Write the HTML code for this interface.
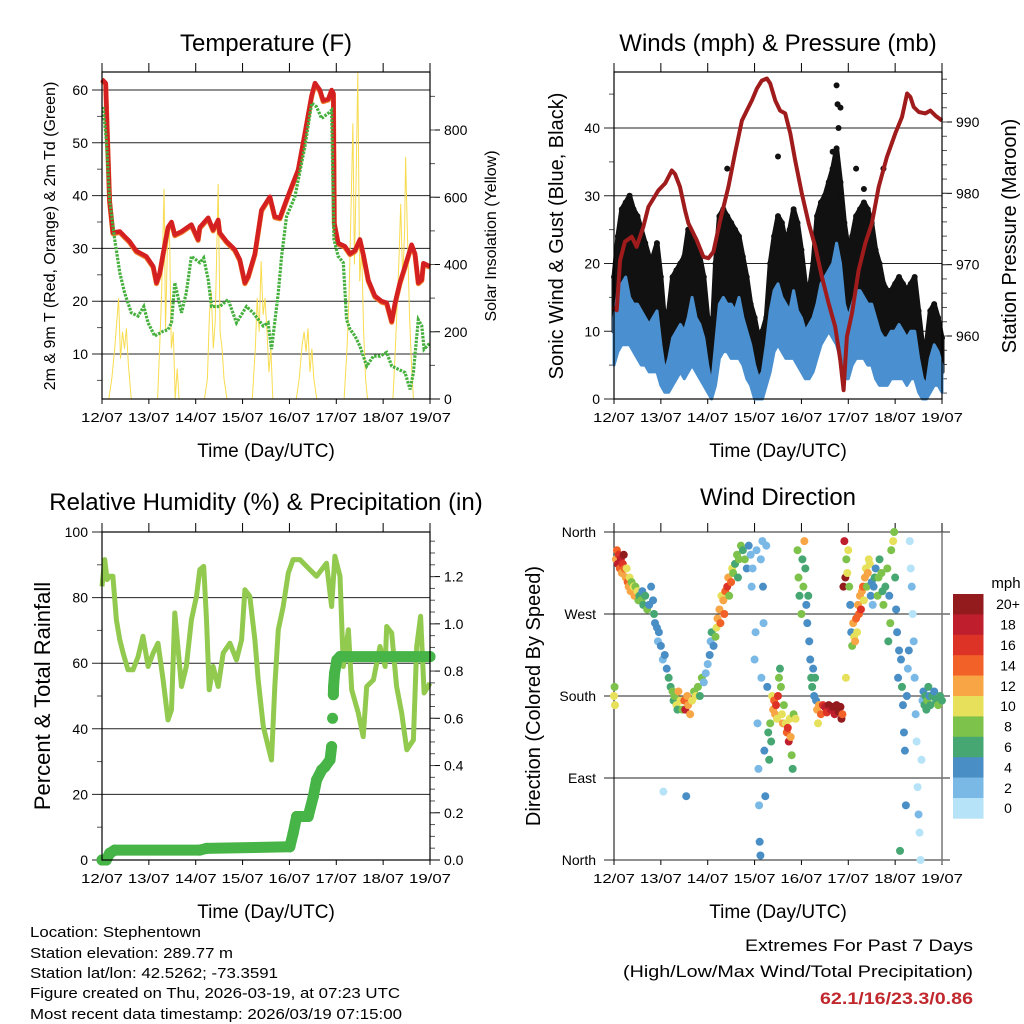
<!DOCTYPE html>
<html><head><meta charset="utf-8"><title>Station Meteogram</title>
<style>
html,body{margin:0;padding:0;background:#fff;}
svg{display:block;font-family:"Liberation Sans",Arial,sans-serif;}
</style></head>
<body>
<svg id="chart" width="1024" height="1024" viewBox="0 0 1024 1024" xmlns="http://www.w3.org/2000/svg">
<rect x="0" y="0" width="1024" height="1024" fill="#fff"/>
<g id="p1"></g>
<g id="p2"></g>
<g id="p3"></g>
<g id="p4"></g>
<g font-size="15" fill="#000">
<text x="30" y="937" textLength="171" lengthAdjust="spacingAndGlyphs">Location: Stephentown</text>
<text x="30" y="958" textLength="203" lengthAdjust="spacingAndGlyphs">Station elevation: 289.77 m</text>
<text x="30" y="978" textLength="248" lengthAdjust="spacingAndGlyphs">Station lat/lon: 42.5262; -73.3591</text>
<text x="30" y="998" textLength="370" lengthAdjust="spacingAndGlyphs">Figure created on Thu, 2026-03-19, at 07:23 UTC</text>
<text x="30" y="1019" textLength="372" lengthAdjust="spacingAndGlyphs">Most recent data timestamp: 2026/03/19 07:15:00</text>
</g>
<g text-anchor="end">
<text x="973" y="951" font-size="17" textLength="228" lengthAdjust="spacingAndGlyphs">Extremes For Past 7 Days</text>
<text x="973" y="977" font-size="17" textLength="350" lengthAdjust="spacingAndGlyphs">(High/Low/Max Wind/Total Precipitation)</text>
<text x="973" y="1004" font-size="17" font-weight="bold" fill="#c0282d" textLength="153" lengthAdjust="spacingAndGlyphs">62.1/16/23.3/0.86</text>
</g>
</svg>
<script>
// ---------- data ----------
const dayLabels=['12/07','13/07','14/07','15/07','16/07','17/07','18/07','19/07'];
const tempHours=[0,1.9,2.6,3.9,5.6,9.1,14.2,17.6,22.7,26.2,27.9,29.6,31.3,33.8,35.6,37.3,40.7,45.8,49.2,50.1,54.4,56.9,59.5,60.3,63.8,68,70.6,73.2,74.9,78.3,81.7,86,88.5,91.1,94.5,97.1,100.5,103.9,107.4,109.1,111.6,113.3,115.9,117.6,118.5,119,121,124.4,127,129.6,132.1,133.8,136.4,139.8,143.2,145.8,148.4,150.1,152.6,155.2,158.6,160.3,162,163.8,164.6,168];
const tempVals=[62,61.3,53,39,33,33.2,31.3,29.5,28.5,26.6,23.5,25.4,29,34,35,32.6,33.2,34.5,31.7,34,35.8,33.5,35.4,33,31.3,29.8,27.9,23.5,24.7,29,37.3,39.8,36,35.8,39.2,41.7,44.9,51.8,59,61.3,60,58,58.3,60,59.4,34.8,31,30.4,29,29.6,31.7,29,24,21,20,19.7,16.2,19.7,23.5,26.6,30.7,29,23.5,24.1,27.2,26.6];
const dewHours=[0.5,2.2,3.9,6.5,9.1,11.6,15,18.5,21.4,23.6,27,31.3,33.8,35.6,37.3,40.7,43.2,45.8,50.1,52.1,54.4,56.1,60.3,64.6,68.9,74,77.4,82.6,85.1,86.8,90.3,92,94.5,98.8,103.9,107.4,109.9,112.5,115.9,117.6,118.8,121,123.6,125.3,127,129.6,132.1,135.6,139,142.4,145.8,148.4,151.8,155.2,157.8,159.5,162,163.8,165,168];
const dewVals=[56.8,50.6,39.2,31.7,25.4,21.6,17.8,17.2,19,15.9,13.4,14.3,14.6,15.9,23.5,17.8,21.6,28.5,27.3,28.2,24.1,19,19,20.3,15.9,19,17.8,15.3,15.9,10.9,21.6,28.5,36,39.8,49.3,57.5,56.8,54.6,55.6,56.2,31.7,28.5,27.3,16.5,14.7,13.4,11.5,7.7,9.6,9.6,10.3,7.7,7.1,6.5,3.3,6.5,16.5,15.3,10.9,12.1];
const solarHours=[0,3.5,5,6.5,8.5,9.5,10.5,11.5,12.5,13.5,15,28.5,29.5,30.5,31.8,32.5,33.5,34.5,35.5,36.5,37.5,38.5,39.5,52.5,54,55,56,57,58,59.5,60.5,61.5,62.5,64,77,78.5,79.5,80.5,81.5,82.5,83.5,84.5,85.5,86.5,87.5,99.5,101,102.5,103.5,104.5,105.5,106.5,107.5,108.5,110,124,125.5,126.5,127.5,128.5,129.3,130,131,132,133,134,135,136,149,150,151,152,153,154,155,155.5,156.5,157.5,158.5,159.5,168];
const solarVals=[0,0,60,150,300,120,200,150,210,100,0,0,150,300,625,200,450,520,150,200,0,90,0,0,60,250,320,150,230,640,200,150,60,0,0,150,300,200,410,250,300,200,80,150,0,0,60,160,200,140,210,80,150,60,0,0,150,300,550,820,400,600,970,350,450,200,60,0,0,120,250,400,580,350,500,720,480,250,100,0,0];
const windHours=[0,2,4,6,8,10,12,14,16,18,20,22,24,26,28,30,32,34,36,38,40,42,44,46,48,50,52,54,56,58,60,62,64,66,68,70,72,74,76,78,80,82,84,86,88,90,92,94,96,98,100,102,104,106,108,110,112,114,116,118,120,122,124,126,128,130,132,134,136,138,140,142,144,146,148,150,152,154,156,158,160,162,164,166,168];
const gustHi=[18,24,28,29,30,28,27,25,23,21,21,23,18,11,13,18,19,20,21,25,24,22,21,18,12,8,20,27,28,27,26,25,24,21,18,14,12,9,10,12,20,24,27,26,23,25,28,26,22,17,16,20,27,29,30,32,34,37,32,26,22,24,27,28,29,28,26,22,20,17,16,16,17,18,17,16,17,18,13,8,8,13,14,12,9];
const gustLo=[10,14,16,16,16,15,14,13,11,10,9,9,6,4,5,8,10,10,10,12,13,12,11,8,4,3,9,14,15,15,14,13,12,10,8,6,4,3,4,6,10,12,14,13,12,12,13,11,10,8,8,10,14,16,17,18,18,20,16,9,10,11,12,12,14,13,12,10,8,7,7,8,8,9,8,7,8,8,5,2,2,5,7,6,4];
const windHi=[12,16,17,18,15,14,14,13,12,11,12,13,8,4,6,9,10,11,10,12,15,12,11,9,5,2,8,14,15,14,14,13,15,12,10,8,5,3,4,8,13,16,17,15,14,13,16,13,12,10,11,12,14,17,18,19,20,23,20,14,12,14,16,16,15,14,14,12,10,9,9,10,10,11,10,9,10,10,6,3,2,6,8,7,5];
const windLo=[5,7,8,8,8,7,6,5,5,4,4,4,2,1,1,2,3,4,3,4,5,4,3,2,1,0,2,6,7,7,6,6,6,5,3,2,0,0,0,2,4,7,8,7,6,6,6,5,4,3,3,4,6,8,9,10,9,8,6,3,3,5,6,6,6,5,5,3,2,2,2,3,3,3,3,2,3,3,1,0,0,1,2,2,1];
const gustOutHours=[58,84,112,114,114.5,115,116,124,128,138];
const gustOutVals=[34,35.8,36.5,46.3,43.5,40,43,34,31,34];
const presHours=[0,1.4,3.1,5.6,9.1,11.6,15,17.6,22.7,26.2,29.6,31.3,33.8,36.4,38.1,42.4,45.8,48.4,50.9,54.4,58.6,62,65.5,68,70.6,73.2,75.7,78.3,80,82.6,85.1,87.7,90.3,92.8,96.2,99.7,103.1,106.5,109.9,113.3,115.9,117.6,118.5,119.3,121.9,125.3,128.7,132.1,135.6,139.8,144.1,147.5,150.1,151.8,153.5,156.1,159.5,162,164.6,168];
const presVals=[964.1,963.6,970.6,973.2,973.9,972.5,975.3,978.1,980.4,981.4,983.2,982.7,980.9,977.6,975.8,973.4,971.1,970.9,971.8,976.2,980.9,985.6,990.2,991.6,993,994.7,995.8,996.1,995.4,993,991.6,991.2,988.4,984.6,980,975.8,972.5,968.3,964.6,961.3,956.6,952.4,956.6,959.9,963.2,969.2,973,975.8,980.9,985.1,988.4,990.7,994,993.5,992.1,991.4,991.2,991.6,990.9,990.2];
const rhHours=[0,1.4,2.6,3.9,5.6,7.4,9.1,10.8,13.3,15.9,18.5,21,23.6,26.2,28.7,31.3,33.8,35.6,37.3,40.7,43.2,45.8,48.4,50.1,52.1,53.5,54.9,56.9,59.5,62.1,65.5,68.9,71.5,73.2,75.7,78.3,80,82.6,84.3,86.8,88.5,90.3,92.8,95.4,97.9,101.4,106.5,109.9,115,117.6,119.3,121.9,123.6,126.2,127.9,131.3,133.8,135.6,139,142.4,145,145.8,148.4,150.9,153.5,156.1,159.5,161.2,163.2,165,168];
const rhVals=[83.4,91.6,85.5,86.5,86.5,73.2,67.1,63.1,58,58,62,68.2,59,63.1,66.1,54.9,42.7,45.8,75.3,52.9,59,73.2,80.4,88.5,89.5,73.2,51.9,59,52.9,63.1,66.1,61,67.1,82.4,80.4,67.1,54.9,40.7,36.6,30.5,52.9,70.2,77.3,87.5,91.6,91.6,88.5,86.5,90.5,77.3,92.6,86.5,59,70.2,51.9,44.8,37.6,52.9,54.9,65.1,59,71.2,69.2,52.9,44.8,33.6,36.6,65.1,74.3,50.9,53.9];
const precipHours=[0,2.2,3.9,6.5,50.1,53.5,96.2,97.9,99.7,102.2,105.6,108.2,109.9,112.5,114.2,116.8,117.6,118.1,118.5,118.6,119.1,120.3,121.9,168];
const precipVals=[0,0,0.028,0.042,0.042,0.049,0.056,0.113,0.184,0.184,0.184,0.268,0.339,0.381,0.395,0.424,0.48,0.6,0.7,0.734,0.79,0.847,0.861,0.861];
const dirHours=[0,0.3,0.5,1,1.5,2,2.5,3,3.5,4,4.5,5,5.5,6,6.5,7,7.5,8,8.5,9,10,10.5,11,12,12.5,13,14,14.5,15,16,17,18,19,20,20.5,21,22,22.5,23,
24,25,25.3,26,27,28,29,30,30.5,31,32,32.5,33,34,35,36,36.5,37,37.5,38,39,40,41,42,43,44,45,46,47,48,49,49.5,50,51,52,52.5,53,54,54.5,55,56,56.5,57,58,58.5,59,60,60.5,61,62,63,63.5,64,65,66,67,68,69,70,70.5,71,
72,72.5,73,73.5,74,74.3,74.6,75,75.2,75.5,76,76.3,76.6,77,77.5,78,78.5,79,79.5,80,80.5,81,81.5,82,82.5,83,83.5,84,84.5,85,85.5,86,86.5,87,88,88.5,89,89.5,90,90.5,91,91.5,92,93,
94,94.5,95,96,96.5,97,97.5,98,98.5,99,99.5,100,100.5,101,101.5,102,102.5,103,103.5,104,104.5,105,106,107,108,109,110,111,112,113,114,115,116,116.5,117,117.5,118,118.5,118.8,
119,119.5,120,120.5,121,121.5,122,122.5,123,123.5,124,124.5,125,125.5,126,126.5,127,127.5,128,128.5,129,129.5,130,130.5,131,131.5,132,132.5,133,133.5,134,135,135.5,136,137,137.5,138,139,140,140.5,141,141.5,142,143,143.5,144,144.5,145,
145.5,146,146.5,147,147.5,148,148.5,149,149.5,150,150.5,151,151.5,152,152.5,153,153.5,154,154.5,155,155.5,156,156.5,157,157.5,158,158.5,159,159.5,160,160.5,161,161.5,162,163,164,165,166,167,168];
const dirVals=[180,190,170,330,340,325,335,320,330,315,325,335,320,310,320,305,300,310,295,305,300,290,300,295,285,290,285,295,280,290,275,280,300,285,270,260,255,240,250,
235,220,75,225,210,200,190,185,175,180,170,165,185,175,165,175,165,70,180,170,160,175,185,180,190,180,200,195,205,215,225,240,250,235,245,255,265,275,260,290,285,270,295,300,310,290,305,320,315,325,335,310,330,345,340,330,320,345,335,300,320,
220,250,340,150,100,60,20,5,330,200,350,300,260,120,70,345,190,140,110,150,130,180,165,175,160,170,155,180,200,210,190,160,150,170,150,140,145,130,155,135,115,100,160,155,
340,310,290,270,330,300,350,320,280,260,290,240,220,200,190,210,180,200,175,165,150,170,160,170,168,162,170,165,168,160,170,163,168,155,160,300,350,310,200,
330,315,340,300,280,250,235,260,245,240,265,250,280,270,290,275,295,300,285,310,320,300,315,330,325,290,305,280,300,310,320,290,310,330,315,295,280,300,320,240,290,260,340,350,360,310,275,250,
200,230,10,220,190,170,140,120,60,180,210,230,350,320,300,270,240,200,160,130,80,50,30,0,110,175,185,170,180,165,175,190,180,170,180,185,175,170,180,175];
const dirSpeeds=[10,8,10,12,14,18,16,14,18,12,16,20,14,12,10,14,12,10,12,8,10,12,8,10,8,6,8,4,6,6,8,4,4,4,6,4,4,2,4,
4,2,0,4,4,6,6,8,6,8,10,6,12,10,8,14,18,4,12,12,12,10,8,10,8,6,8,2,2,2,4,2,6,4,8,10,12,12,14,10,12,14,14,16,12,8,14,10,8,6,8,6,8,8,6,8,4,4,2,2,2,
2,2,2,2,2,2,4,4,2,2,2,4,2,4,4,2,4,6,6,8,6,10,12,14,12,16,10,16,8,6,8,10,12,8,10,14,16,18,10,12,8,6,8,10,
8,8,6,8,6,8,12,6,4,4,6,4,4,6,6,4,4,6,4,12,10,12,14,16,18,16,20,18,20,18,20,20,20,20,14,20,18,20,10,
8,10,10,8,4,4,8,12,10,12,14,10,12,14,12,16,12,14,10,12,10,8,12,10,10,4,4,2,4,6,4,8,8,6,8,6,8,6,8,6,4,8,8,10,8,6,4,4,
4,4,6,4,6,4,4,4,4,4,2,4,0,0,2,0,2,2,2,0,0,2,0,0,0,2,4,6,6,6,8,6,4,6,6,4,6,8,6,6];
const speedLabels=['0','2','4','6','8','10','12','14','16','18','20+'];
const speedColors=['#b6e3f8','#7ab8e6','#4a8ec6','#47a772','#7dc24b','#e7e05a','#f7a545','#f26228','#dd3327','#bf1e2d','#931a1d'];

// ---------- helpers ----------
const NS='http://www.w3.org/2000/svg';
function mk(parent,tag,attrs,text){const e=document.createElementNS(NS,tag);for(const k in attrs)e.setAttribute(k,attrs[k]);if(text!==undefined)e.textContent=text;parent.appendChild(e);return e;}
function linScale(d0,d1,r0,r1){return v=>r0+(v-d0)*(r1-r0)/(d1-d0);}
function pathFrom(xs,ys,sx,sy){let d='';for(let i=0;i<xs.length;i++)d+=(i?'L':'M')+sx(xs[i]).toFixed(1)+','+sy(ys[i]).toFixed(1);return d;}

function frame(g,L,R,T,B){
  const sx=linScale(0,168,L,R);
  for(let d=0;d<=7;d++){
    const x=sx(d*24);
    const t1=mk(g,'line',{x1:x,x2:x,y1:T-9,y2:T,stroke:'#000','stroke-width':1});
    
    const t2=mk(g,'line',{x1:x,x2:x,y1:B,y2:B+5,stroke:'#000','stroke-width':1});
    
    const lb=mk(g,'text',{x:x,y:B+23,'font-size':13,'text-anchor':'middle',textLength:42,lengthAdjust:'spacingAndGlyphs'},dayLabels[d]);
    
  }
  const xt=mk(g,'text',{x:(L+R)/2,y:B+58,'font-size':19,'text-anchor':'middle'},'Time (Day/UTC)');
  
  return sx;
}
function leftAxis(g,L,R,sy,ticks,labels,minor){
  ticks.forEach((v,i)=>{
    const y=sy(v);
    const gl=mk(g,'line',{x1:L-10,x2:R,y1:y,y2:y,stroke:'#222','stroke-width':1});
    const t=mk(g,'text',{x:L-14,y:y+5,'font-size':14,'text-anchor':'end'},labels[i]);
    
  });
  minor.forEach(v=>{const y=sy(v);const m=mk(g,'line',{x1:L-5,x2:L,y1:y,y2:y,stroke:'#555'});});
}
function rightAxis(g,R,sy,ticks,labels,minor){
  ticks.forEach((v,i)=>{const y=sy(v);
    const tl=mk(g,'line',{x1:R,x2:R+10,y1:y,y2:y,stroke:'#000'});
    const t=mk(g,'text',{x:R+14,y:y+5,'font-size':14},labels[i]);});
  minor.forEach(v=>{const y=sy(v);const m=mk(g,'line',{x1:R,x2:R+5,y1:y,y2:y,stroke:'#555'});});
}
function rotText(g,x,y,size,txt,name){const t=mk(g,'text',{x:0,y:0,'font-size':size,'text-anchor':'middle',transform:`translate(${x},${y}) rotate(-90)`},txt);return t;}
function title(g,x,y,txt){const t=mk(g,'text',{x:x,y:y,'font-size':24,'text-anchor':'middle'},txt);}
function box(g,L,R,T,B){const r=mk(g,'rect',{x:L,y:T,width:R-L,height:B-T,fill:'none',stroke:'#000','stroke-width':1.2});}
function range(a,b,s){const o=[];for(let v=a;v<=b+1e-9;v+=s)o.push(+v.toFixed(3));return o;}

// ---------- Panel 1 ----------
(function(){
  const g=document.getElementById('p1');const L=102,R=430,T=72,B=399;
  const sx=frame(g,L,R,T,B);
  const sy=linScale(10,60,354,90);
  const sy2=linScale(0,800,399,130);
  title(g,266,51,'Temperature (F)');
  leftAxis(g,L,R,sy,[10,20,30,40,50,60],['10','20','30','40','50','60'],[5,15,25,35,45,55]);
  rightAxis(g,R,sy2,[0,200,400,600,800],['0','200','400','600','800'],range(100,900,100));
  rotText(g,55,236,16,'2m & 9m T (Red, Orange) & 2m Td (Green)','y-axis-title');
  rotText(g,496,236,16,'Solar Insolation (Yellow)','y2-axis-title');
  const clip=mk(g,'clipPath',{id:'c1'});mk(clip,'rect',{x:L,y:T,width:R-L,height:B-T});
  const s=mk(g,'path',{d:pathFrom(solarHours,solarVals,sx,sy2),fill:'none',stroke:'#f8dc50','stroke-width':1,'clip-path':'url(#c1)'});
  
  const o=mk(g,'path',{d:pathFrom(tempHours,tempVals,sx,sy),fill:'none',stroke:'#f07a2a','stroke-width':5,transform:'translate(0,1)','stroke-linejoin':'round'});
  
  const r=mk(g,'path',{d:pathFrom(tempHours,tempVals,sx,sy),fill:'none',stroke:'#d42020','stroke-width':4.5,'stroke-linejoin':'round'});
  
  const d=mk(g,'path',{d:pathFrom(dewHours,dewVals,sx,sy),fill:'none',stroke:'#46b03e','stroke-width':3.2,'stroke-dasharray':'2.5 1.2'});
  
  box(g,L,R,T,B);
})();

// ---------- Panel 2 ----------
(function(){
  const g=document.getElementById('p2');const L=614,R=942,T=72,B=399;
  const sx=frame(g,L,R,T,B);
  const sy=linScale(0,40,399,128);
  const sy2=linScale(960,990,336,122);
  title(g,778,51,'Winds (mph) & Pressure (mb)');
  leftAxis(g,L,R,sy,[0,10,20,30,40],['0','10','20','30','40'],[5,15,25,35,45]);
  rightAxis(g,R,sy2,[960,970,980,990],['960','970','980','990'],range(952,996,2));
  rotText(g,563,236,20,'Sonic Wind & Gust (Blue, Black)','y-axis-title');
  rotText(g,1016,236,20,'Station Pressure (Maroon)','y2-axis-title');
  function band(hi,lo,color,name,w){
    let d='';windHours.forEach((h,i)=>{d+=(i?'L':'M')+sx(h).toFixed(1)+','+sy(hi[i]).toFixed(1);});
    for(let i=windHours.length-1;i>=0;i--)d+='L'+sx(windHours[i]).toFixed(1)+','+sy(lo[i]).toFixed(1);
    const p=mk(g,'path',{d:d+'Z',fill:color,stroke:color,'stroke-width':w,'stroke-linejoin':'round'});
    
  }
  band(gustHi,gustLo,'#111','gust-points',5);
  gustHi.forEach((v,i)=>{const c=mk(g,'circle',{cx:sx(windHours[i]),cy:sy(v),r:3,fill:'#111'});});
  gustOutHours.forEach((h,i)=>{const c=mk(g,'circle',{cx:sx(h),cy:sy(gustOutVals[i]),r:3,fill:'#111'});});
  band(windHi,windLo,'#4a90d0','wind-speed-band',3);
  const p=mk(g,'path',{d:pathFrom(presHours,presVals,sx,sy2),fill:'none',stroke:'#a01c1c','stroke-width':4,'stroke-linejoin':'round'});
  
  box(g,L,R,T,B);
})();

// ---------- Panel 3 ----------
(function(){
  const g=document.getElementById('p3');const L=102,R=430,T=532,B=860;
  const sx=frame(g,L,R,T,B);
  const sy=linScale(0,100,860,532);
  const sy2=linScale(0,1.2,860,576.6);
  title(g,266,510,'Relative Humidity (%) & Precipitation (in)');
  leftAxis(g,L,R,sy,[0,20,40,60,80,100],['0','20','40','60','80','100'],[10,30,50,70,90]);
  rightAxis(g,R,sy2,[0,0.2,0.4,0.6,0.8,1.0,1.2],['0.0','0.2','0.4','0.6','0.8','1.0','1.2'],range(0.05,1.35,0.05));
  rotText(g,50,696,22,'Percent & Total Rainfall','y-axis-title');
  const rh=mk(g,'path',{d:pathFrom(rhHours,rhVals,sx,sy),fill:'none',stroke:'#92c94f','stroke-width':5,'stroke-linejoin':'round'});
  
  for(let i=1;i<precipHours.length;i++){
    if(Math.abs(precipVals[i]-precipVals[i-1])<0.095){
      const seg=mk(g,'line',{x1:sx(precipHours[i-1]),y1:sy2(precipVals[i-1]),x2:sx(precipHours[i]),y2:sy2(precipVals[i]),stroke:'#46b446','stroke-width':11,'stroke-linecap':'round'});
      
    }
  }
  precipHours.forEach((h,i)=>{const c=mk(g,'circle',{cx:sx(h),cy:sy2(precipVals[i]),r:5.5,fill:'#46b446'});});
  box(g,L,R,T,B);
})();

// ---------- Panel 4 ----------
(function(){
  const g=document.getElementById('p4');const L=614,R=942,T=532,B=860;
  const sx=frame(g,L,R,T,B);
  const sy=linScale(0,360,860,532);
  title(g,778,505,'Wind Direction');
  [360,270,180,90,0].forEach((v,i)=>{
    const y=sy(v);
    const gl=mk(g,'line',{x1:L-10,x2:R+8,y1:y,y2:y,stroke:'#222'});
    const t=mk(g,'text',{x:L-18,y:y+5,'font-size':14,'text-anchor':'end'},['North','West','South','East','North'][i]);
    
  });
  const la=mk(g,'line',{x1:L,x2:L,y1:T,y2:B,stroke:'#000'});
  const ra=mk(g,'line',{x1:R,x2:R,y1:T,y2:B+4,stroke:'#777','stroke-width':1.5});
  rotText(g,540,696,20,'Direction (Colored By Speed)','y-axis-title');
  dirHours.forEach((h,i)=>{
    const bin=Math.min(10,Math.floor(dirSpeeds[i]/2));
    const c=mk(g,'circle',{cx:sx(h),cy:sy(dirVals[i]),r:4,fill:speedColors[bin]});
    
  });
  const lg=mk(g,'g',{});
  const mt=mk(lg,'text',{x:1006,y:588,'font-size':15,'text-anchor':'middle'},'mph');
  const top=594,h=20.4;
  for(let k=10;k>=0;k--){
    const y=top+(10-k)*h;
    const r=mk(lg,'rect',{x:953,y:y,width:30.5,height:h+0.3,fill:speedColors[k]});
    
    const t=mk(lg,'text',{x:1008,y:y+h/2+5,'font-size':14,'text-anchor':'middle'},speedLabels[k]);
    
  }
})();
</script>
</body></html>
